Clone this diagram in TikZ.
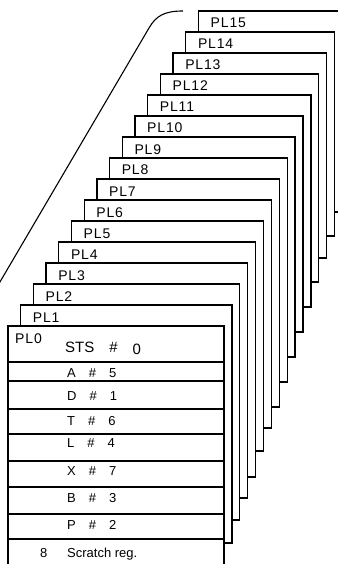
\documentclass[tikz,border=0pt]{standalone}
\usepackage{fontspec}
\setmainfont{Liberation Sans}
\newfontfamily\plfont[LetterSpace=6]{Liberation Sans}
\tikzset{
    card/.style={draw, fill=white, line width=1.3pt},
    cardlabel/.style={anchor=base west, inner sep=0pt, font=\plfont\fontsize{14}{14}\selectfont},
    regtext/.style={anchor=base west, inner sep=0pt, font=\fontsize{13}{13}\selectfont},
}

\begin{document}
\begin{tikzpicture}[x=1pt,y=-1pt]
\useasboundingbox (0,0) rectangle (337,564);
\draw[line width=1.1pt] (-3,287) -- (149,28) .. controls (156,16) and (164,11) .. (183,11);
\foreach \k/\ybot in {15/212,14/236,13/258,12/282,11/307,10/332,9/357,8/382,7/407,6/428,5/451,4/477,3/498,2/520,1/543} {
\pgfmathsetmacro\xleft{8+12.7*\k}
\pgfmathsetmacro\ytop{326-21*\k}
\pgfmathsetmacro\xright{224+7.9*\k}
\draw[card] (\xleft,\ytop) rectangle (\xright,\ybot);
\node[cardlabel] (pl\k) at (\xleft+12,\ytop+17) {PL\k};
}
\draw[card] (8,326) rectangle (224,570);
\foreach \y in {362,381,409,434,461,487,514,539} {
\draw[line width=1.3pt] (8,\y) -- (224,\y);
}
\node[cardlabel] (pl0) at (15,343) {PL0};
\node[regtext, font=\fontsize{15}{15}\selectfont] (sts) at (65,352) {STS\quad\#\quad\raisebox{-2pt}{0}};
\foreach \reg/\num/\y in {A/5/377, D/1/400, T/6/425, L/4/447, X/7/475, B/3/502, P/2/529} {
\node[regtext] (reg\reg) at (67,\y) {\reg\quad\#\quad\num};
}
\node[regtext] (scratchno) at (40,557) {8};
\node[regtext] (scratch) at (67,557) {Scratch reg.};
\end{tikzpicture}
\end{document}
